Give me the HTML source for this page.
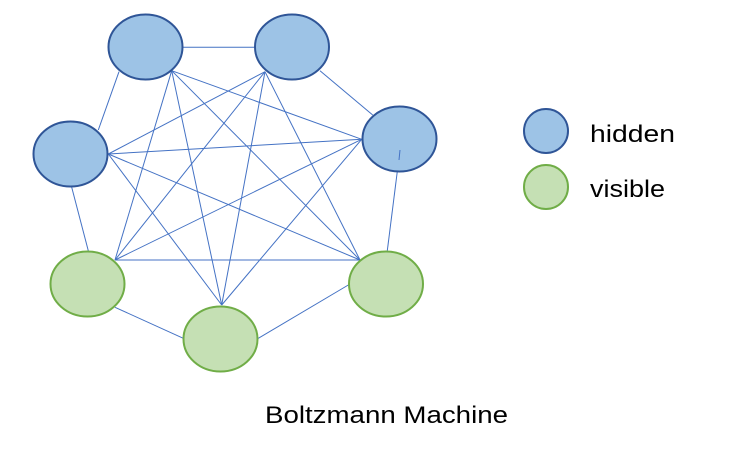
<!DOCTYPE html>
<html><head><meta charset="utf-8"><style>
html,body{margin:0;padding:0;background:#fff;width:735px;height:452px;overflow:hidden}
svg{display:block}
</style></head><body>
<svg width="735" height="452" viewBox="0 0 735 452" xmlns="http://www.w3.org/2000/svg">
<g stroke="#4472C4" stroke-width="1" fill="none">
<line x1="183.3" y1="47.3" x2="254.3" y2="47.3"/>
<line x1="119" y1="71.7" x2="98.3" y2="130"/>
<line x1="320" y1="70.7" x2="372.7" y2="115"/>
<line x1="71.7" y1="187.3" x2="88.3" y2="250.7"/>
<line x1="400" y1="150" x2="387.3" y2="250.7"/>
<line x1="115" y1="307.3" x2="183.3" y2="338.3"/>
<line x1="258.3" y1="338.3" x2="348.3" y2="285"/>
<line x1="171.7" y1="70.7" x2="361.7" y2="139.3"/>
<line x1="171.7" y1="70.7" x2="115" y2="260"/>
<line x1="171.7" y1="70.7" x2="221.7" y2="305"/>
<line x1="171.7" y1="70.7" x2="360" y2="260"/>
<line x1="265" y1="71.7" x2="108.3" y2="154"/>
<line x1="265" y1="71.7" x2="115" y2="260"/>
<line x1="265" y1="71.7" x2="221.7" y2="305"/>
<line x1="265" y1="71.7" x2="360" y2="260"/>
<line x1="108.3" y1="154" x2="361.7" y2="139.3"/>
<line x1="108.3" y1="154" x2="221.7" y2="305"/>
<line x1="108.3" y1="154" x2="360" y2="260"/>
<line x1="361.7" y1="139.3" x2="115" y2="260"/>
<line x1="361.7" y1="139.3" x2="221.7" y2="305"/>
<line x1="115" y1="260" x2="360" y2="260"/>
</g>
<g fill="#9DC3E6" stroke="#2F5597" stroke-width="2">
<ellipse cx="145.5" cy="47" rx="37" ry="32.5"/>
<ellipse cx="292" cy="47" rx="37" ry="32.5"/>
<ellipse cx="399.5" cy="139" rx="37" ry="32.5"/>
<ellipse cx="70.5" cy="154" rx="37" ry="32.5"/>
<circle cx="546" cy="131" r="22"/>
</g>
<line x1="400" y1="150" x2="399" y2="160" stroke="#4472C4" stroke-width="1"/>
<g fill="#C5E0B4" stroke="#70AD47" stroke-width="2">
<ellipse cx="87.5" cy="284" rx="37" ry="32.5"/>
<ellipse cx="220.5" cy="339" rx="37" ry="32.5"/>
<ellipse cx="386" cy="284" rx="37" ry="32.5"/>
<circle cx="546" cy="187" r="22"/>
</g>
<g font-family="Liberation Sans, sans-serif" font-size="24" fill="#000">
<text x="590" y="142" textLength="85" lengthAdjust="spacingAndGlyphs">hidden</text>
<text x="590" y="197" textLength="75" lengthAdjust="spacingAndGlyphs">visible</text>
<text x="265" y="423" textLength="243" lengthAdjust="spacingAndGlyphs">Boltzmann Machine</text>
</g>
</svg>
</body></html>
